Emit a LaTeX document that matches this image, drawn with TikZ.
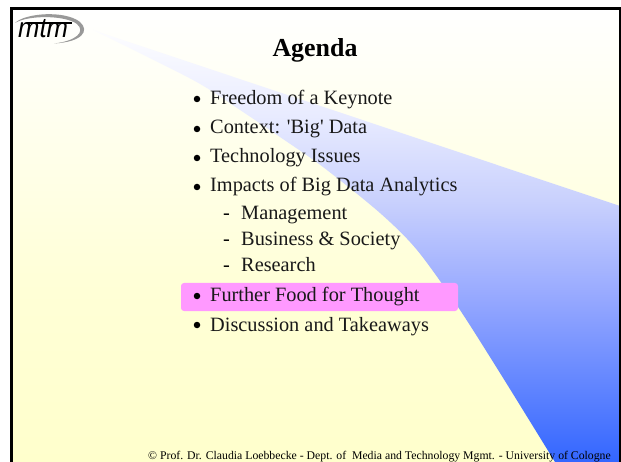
\documentclass[tikz,border=0pt]{standalone}
\usepackage{fontspec}
\setmainfont{Liberation Serif}
\newfontfamily\logofont{Liberation Sans}
\definecolor{pinkbar}{HTML}{FF99FF}
\definecolor{pga}{HTML}{FFFFCC}
\definecolor{pgb}{HTML}{FFFFD6}
\definecolor{wga}{HTML}{3366FF}
\definecolor{wgb}{HTML}{96A8FF}
\definecolor{wgc}{HTML}{C8D0FD}
\definecolor{wgd}{HTML}{E8EBFF}
\definecolor{wge}{HTML}{FDFDFF}
\pgfdeclareverticalshading{pagegrad}{100bp}{
  color(0bp)=(pga);
  color(25bp)=(pga);
  color(44bp)=(pgb);
  color(75bp)=(white);
  color(100bp)=(white)}
\pgfdeclareverticalshading{wedgegrad}{100bp}{
  color(0bp)=(wga);
  color(25bp)=(wga);
  color(44bp)=(wgb);
  color(55bp)=(wgc);
  color(65bp)=(wgd);
  color(75bp)=(wge);
  color(100bp)=(wge)}
\tikzset{
  x=1bp,y=-1bp,
  item/.style={anchor=base west,inner sep=0pt,font=\fontsize{20.4}{20.4}\selectfont,text=black!90},
  subitem/.style={item},
  dot/.style={circle,fill=black,inner sep=0pt,minimum size=6.5bp},
  dashmark/.style={anchor=base west,inner sep=0pt,font=\fontsize{20.4}{20.4}\selectfont},
  swoosh/.style={fill=black!40,draw=none},
}
\begin{document}
\begin{tikzpicture}
\useasboundingbox (0,0) rectangle (621,462);
\fill[white] (0,0) rectangle (621,462);
% page background
\shade[shading=pagegrad] (11,9) rectangle (620,462);
% wedge
\shade[shading=wedgegrad]
  plot[smooth,tension=0.5] coordinates {(93,30) (193,80) (237,108) (280,137) (323,167) (380,213) (417,250) (458,307) (500,373) (555,462)}
  -- (620,462) -- (620,206) -- cycle;
% frame
\draw[line width=3bp,black] (11.3,470) -- (11.3,9) -- (620,9) -- (620,470);
% logo
\fill[swoosh] (15,23) .. controls (25,13) and (65,10) .. (80,22) .. controls (90,31) and (82,42) .. (54,43.5)
  .. controls (76,41) and (86,32) .. (77,24) .. controls (65,15) and (28,15) .. cycle;
\node[inner sep=0pt,anchor=base west,font=\logofont\itshape\fontsize{28}{28}\selectfont] (logo) at (18,37.5) {\scalebox{.92}[1]{mtm}};
\draw[line width=1.6bp,black] (27,23.2) -- (72,23.2);
% title
\node[anchor=base,inner sep=0pt,font=\bfseries\fontsize{26}{26}\selectfont] (title) at (315,57) {Agenda};
% highlight
\fill[pinkbar,rounded corners=3bp] (181,283) rectangle (458,311);
% items
\node[item] (i1) at (210,105) {Freedom of a Keynote};
\node[item] (i2) at (210,134) {Context: \textquotesingle Big\textquotesingle{} Data};
\node[item] (i3) at (210,163) {Technology Issues};
\node[item] (i4) at (210,192) {Impacts of Big Data Analytics};
\node[subitem] (s1) at (241,220) {Management};
\node[subitem] (s2) at (241,246) {Business \& Society};
\node[subitem] (s3) at (241,272) {Research};
\node[item] (i5) at (210,302) {Further Food for Thought};
\node[item] (i6) at (210,331) {Discussion and Takeaways};
\foreach \n/\y in {1/99,2/129,3/158,4/187,5/296,6/325}{
  \node[dot] (b\n) at (197,\y) {};
}
\foreach \n/\y in {1/220,2/246,3/272}{
  \node[dashmark] (d\n) at (223,\y) {-};
}
% footer
\node[anchor=base east,inner sep=0pt,font=\fontsize{11.8}{11.8}\selectfont] (foot) at (611,459) {\textcopyright{} Prof. Dr. Claudia Loebbecke - Dept. of\ \ Media and Technology Mgmt. - University of Cologne};
\end{tikzpicture}
\end{document}
